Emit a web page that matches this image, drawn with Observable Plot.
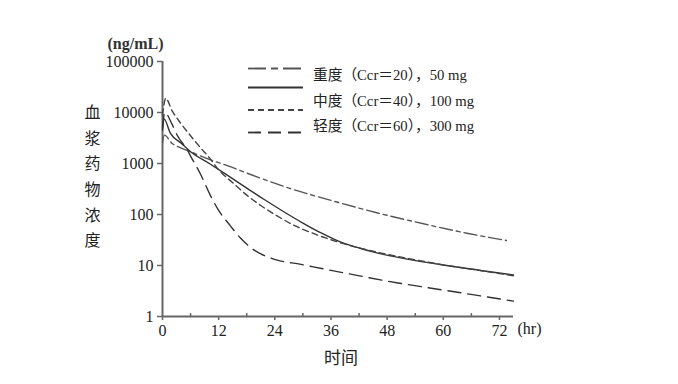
<!DOCTYPE html>
<html><head><meta charset="utf-8">
<script src="https://cdn.jsdelivr.net/npm/d3@7"></script>
<script src="https://cdn.jsdelivr.net/npm/@observablehq/plot@0.6"></script>
<style>
body{margin:0;background:#fff;}
#wrap{position:relative;width:678px;height:384px;}
#wrap svg{position:absolute;left:0;top:0;}
</style></head><body><div id="wrap"></div>
<script>
// Data
const tDashDot = [0, 0.4, 2, 4, 6, 10, 14, 18, 27, 38, 46, 56, 65, 73.5];
const cDashDot = [2600, 3600, 2500, 2000, 1700, 1200, 900, 650, 330, 168, 107, 65, 43, 31];
const tSolid = [0, 0.3, 1.7, 4, 6, 10, 14, 18, 22, 26, 30, 34, 38, 42, 46, 52, 60, 68, 75];
const cSolid = [4500, 7500, 3900, 2500, 1700, 1000, 580, 330, 190, 112, 68, 43, 29, 22, 17.5, 13.5, 10.2, 8, 6.5];
const tShort = [0, 0.7, 2, 3.8, 6, 8, 10, 12, 15, 18, 21, 24, 28, 33, 38, 45, 52, 60, 67, 75];
const cShort = [9000, 19000, 11000, 6300, 3500, 2100, 1300, 750, 420, 240, 150, 100, 62, 40, 28, 19, 14, 10.3, 8.2, 6.3];
const tLong = [0, 0.5, 2, 3.2, 5.3, 6, 8, 10.2, 12, 14.5, 16.6, 19.6, 23.6, 29.6, 39.7, 50, 60, 75];
const cLong = [5000, 10000, 6000, 3500, 1850, 1400, 650, 240, 120, 60, 35, 20, 13.5, 10.5, 6.9, 4.6, 3.3, 2.0];

const yTicks = [1, 10, 100, 1000, 10000, 100000];
const xTicks = [0, 12, 24, 36, 48, 60, 72];
const xMinor = [6, 18, 30, 42, 54, 66];
const legendLabels = ["重度（Ccr＝20），50 mg", "中度（Ccr＝40），100 mg", "轻度（Ccr＝60），300 mg"];
const yTitle = "(ng/mL)";
const yLabel = "血浆药物浓度";
const xLabel = "时间";
const xUnit = "(hr)";

const toRows = (ts, cs) => ts.map((t, i) => ({t, c: cs[i]}));
const series = [
  {rows: toRows(tDashDot, cDashDot), dash: "13,4,4,4", color: "#555"},
  {rows: toRows(tSolid, cSolid), dash: null, color: "#333"},
  {rows: toRows(tShort, cShort), dash: "6,4", color: "#444"},
  {rows: toRows(tLong, cLong), dash: "13,7", color: "#333"}
];

const serif = "'Liberation Serif','Noto Sans CJK SC',serif";
const axisColor = "#666";

const plot = Plot.plot({
  width: 678, height: 384,
  marginLeft: 162, marginRight: 165, marginTop: 61, marginBottom: 68,
  style: {fontFamily: serif, fontSize: "16px", color: "#222", background: "transparent"},
  x: {domain: [0, 75]},
  y: {type: "log", domain: [1, 100000]},
  marks: [
    Plot.axisY({ticks: yTicks, tickFormat: d => String(d), tickSize: 5, tickPadding: 4, label: null, stroke: axisColor, strokeWidth: 1.5, fontSize: 16}),
    Plot.axisX({ticks: xTicks, tickFormat: d => String(d), tickSize: 4, tickPadding: 4, label: null, stroke: axisColor, strokeWidth: 1.5, fontSize: 16}),
    Plot.ruleX(xMinor, {y1: 1, y2: 1.14, stroke: axisColor, strokeWidth: 1.5}),
    Plot.ruleX([0], {y1: 1, y2: 100000, stroke: axisColor, strokeWidth: 2}),
    Plot.ruleY([1], {x1: 0, x2: 75, stroke: axisColor, strokeWidth: 2}),
    ...series.map(s => Plot.line(s.rows, {x: "t", y: "c", curve: "monotone-x", stroke: s.color, strokeWidth: 1.4, strokeDasharray: s.dash})),
    Plot.text([yTitle], {frameAnchor: "top-left", dx: -27, dy: -24, textAnchor: "middle", fontSize: 16, fontWeight: "bold", fill: "#333"}),
    Plot.text([yLabel.split("").join("\n")], {frameAnchor: "left", dx: -70, dy: -15, textAnchor: "middle", lineHeight: 1.6, fontSize: 16, fill: "#222"}),
    Plot.text([xLabel], {frameAnchor: "bottom", dx: 3, dy: 47, fontSize: 17, fill: "#222"}),
    Plot.text([xUnit], {frameAnchor: "bottom-right", dx: 4, dy: 17, textAnchor: "start", fontSize: 16, fill: "#222"})
  ]
});
document.getElementById("wrap").appendChild(plot);

// Legend overlay
const lg = d3.select("#wrap").append("svg").attr("width", 678).attr("height", 384).style("pointer-events", "none");
const sampleY = [68.5, 87.5, 110, 132.5];
series.forEach((s, i) => {
  lg.append("line").attr("x1", 248).attr("x2", 303).attr("y1", sampleY[i]).attr("y2", sampleY[i])
    .attr("stroke", s.color).attr("stroke-width", 1.8).attr("stroke-dasharray", i === 0 ? "18,5,7,5" : s.dash);
});
const labelY = [75, 100.5, 125.5];
legendLabels.forEach((l, i) => {
  lg.append("text").attr("x", 313).attr("y", labelY[i]).attr("dominant-baseline", "central")
    .attr("font-family", serif).attr("font-size", 14.7).attr("fill", "#222").text(l);
});
</script></body></html>
